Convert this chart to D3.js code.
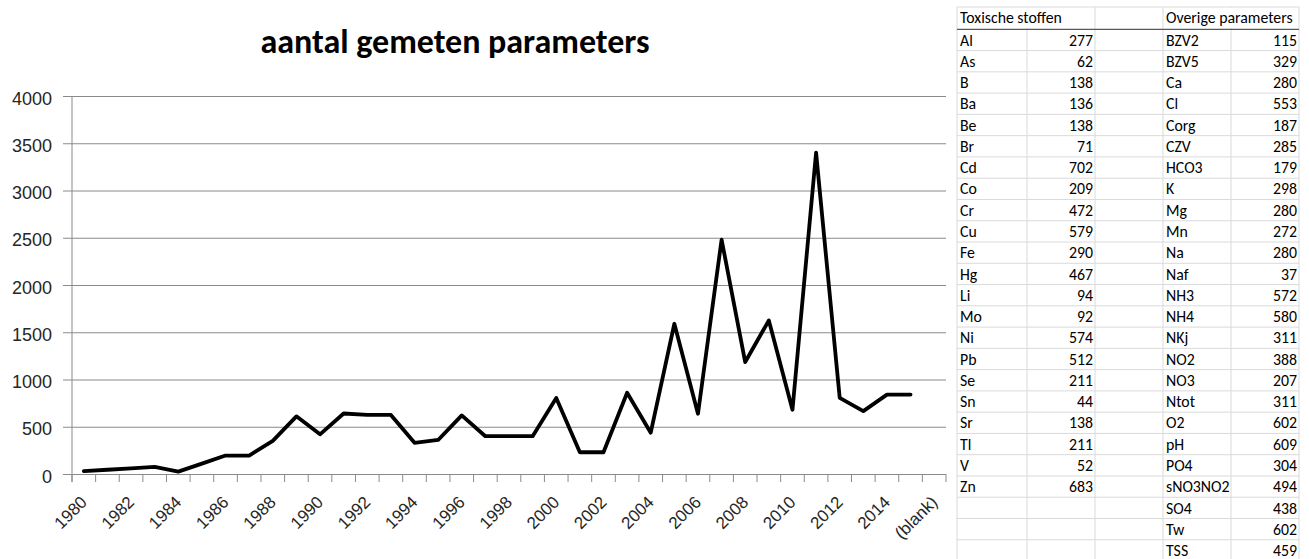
<!DOCTYPE html>
<html lang="nl">
<head>
<meta charset="UTF-8">
<script src="https://d3js.org/d3.v7.min.js"></script>
<title>aantal gemeten parameters</title>
<style>
  body { margin: 0; background: #fff; }
  svg { display: block; }
</style>
</head>
<body>
<svg id="chart" width="1309" height="559"></svg>
<script>
// chart data
const years = ["1980","1981","1982","1983","1984","1985","1986","1987","1988","1989",
  "1990","1991","1992","1993","1994","1995","1996","1997","1998","1999",
  "2000","2001","2002","2003","2004","2005","2006","2007","2008","2009",
  "2010","2011","2012","2013","2014","2015","(blank)"];
const counts = [30, 45, 60, 75, 25, 110, 195, 195, 350, 610,
  420, 640, 625, 625, 330, 360, 620, 400, 400, 400,
  805, 230, 230, 860, 437, 1590, 638, 2480, 1185, 1625,
  680, 3400, 805, 665, 840, 840, null];
const yTicks = [0, 500, 1000, 1500, 2000, 2500, 3000, 3500, 4000];

// table data
const toxNames = ["Al","As","B","Ba","Be","Br","Cd","Co","Cr","Cu","Fe","Hg",
  "Li","Mo","Ni","Pb","Se","Sn","Sr","Tl","V","Zn"];
const toxCounts = [277, 62, 138, 136, 138, 71, 702, 209, 472, 579, 290, 467,
  94, 92, 574, 512, 211, 44, 138, 211, 52, 683];
const otherNames = ["BZV2","BZV5","Ca","Cl","Corg","CZV","HCO3","K","Mg","Mn","Na","Naf",
  "NH3","NH4","NKj","NO2","NO3","Ntot","O2","pH","PO4","sNO3NO2","SO4","Tw","TSS"];
const otherCounts = [115, 329, 280, 553, 187, 285, 179, 298, 280, 272, 280, 37,
  572, 580, 311, 388, 207, 311, 602, 609, 304, 494, 438, 602, 459];

const svg = d3.select("#chart");
const calibri = "Carlito, Lato, sans-serif";
const arial = "'Liberation Sans', Arial, sans-serif";

// ---- line chart ----
const plotL = 72, plotR = 946, plotT = 96, plotB = 474;
const xs = d3.scaleBand().domain(years).range([plotL, plotR]);
const ys = d3.scaleLinear().domain([0, 4000]).range([plotB, plotT]);

svg.append("text")
  .attr("x", 455).attr("y", 53)
  .attr("text-anchor", "middle")
  .style("font-family", calibri).style("font-weight", "bold").style("font-size", "34px")
  .attr("fill", "#000")
  .text("aantal gemeten parameters");

// gridlines + y labels
const yAxis = d3.axisLeft(ys).tickValues(yTicks).tickFormat(d3.format("d"))
  .tickSize(-(plotR - plotL)).tickSizeOuter(0).tickPadding(20);
const gy = svg.append("g").attr("transform", "translate(" + plotL + ",0)").call(yAxis);
gy.select(".domain").remove();
gy.selectAll(".tick line").attr("x1", -9).attr("stroke", "#8a8a8a");
gy.selectAll(".tick text")
  .attr("dy", "0.45em")
  .style("font-family", arial).style("font-size", "18px").attr("fill", "#262626");
svg.append("line")
  .attr("x1", plotL).attr("x2", plotL).attr("y1", plotT).attr("y2", plotB + 8)
  .attr("stroke", "#8a8a8a");

// x axis ticks at category boundaries
const gx = svg.append("g").attr("transform", "translate(0," + plotB + ")");
gx.selectAll("line.cat")
  .data(years.map(y => xs(y)).concat([plotR]))
  .enter().append("line")
  .attr("x1", d => d).attr("x2", d => d).attr("y1", 0).attr("y2", 8)
  .attr("stroke", "#8a8a8a");
gx.selectAll("text")
  .data(years.filter((d, i) => i % 2 === 0))
  .enter().append("text")
  .attr("transform", d => "translate(" + (xs(d) + xs.bandwidth() / 2) + ",25) rotate(-45)")
  .attr("text-anchor", "end")
  .attr("dy", "0.35em")
  .style("font-family", arial).style("font-size", "17px").attr("fill", "#262626")
  .text(d => d);

const line = d3.line()
  .defined(d => d.v !== null)
  .x(d => xs(d.year) + xs.bandwidth() / 2)
  .y(d => ys(d.v));
svg.append("path")
  .datum(years.map((y, i) => ({ year: y, v: counts[i] })))
  .attr("d", line)
  .attr("fill", "none").attr("stroke", "#000")
  .attr("stroke-width", 3.8).attr("stroke-linejoin", "round").attr("stroke-linecap", "round");

// ---- table ----
const colX = [957, 1027, 1095, 1163, 1231, 1299];
const rowTop = 7, headBottom = 29.3, rowH = 21.27, nRows = 25;
const tbl = svg.append("g");
const rowsY = d3.range(nRows + 1).map(k => headBottom + k * rowH);

tbl.selectAll("line.v").data(colX).enter().append("line")
  .attr("x1", d => d).attr("x2", d => d).attr("y1", rowTop).attr("y2", 559)
  .attr("stroke", "#dadada");
tbl.selectAll("line.h").data([rowTop].concat(rowsY.slice(1))).enter().append("line")
  .attr("x1", colX[0]).attr("x2", colX[5]).attr("y1", d => d).attr("y2", d => d)
  .attr("stroke", "#dadada");
tbl.append("rect").attr("x", colX[0] + 1).attr("y", rowTop + 1)
  .attr("width", colX[2] - colX[0] - 2).attr("height", headBottom - rowTop - 2).attr("fill", "#fff");
tbl.append("rect").attr("x", colX[3] + 1).attr("y", rowTop + 1)
  .attr("width", colX[5] - colX[3] - 2).attr("height", headBottom - rowTop - 2).attr("fill", "#fff");
tbl.append("line")
  .attr("x1", colX[0]).attr("x2", colX[5]).attr("y1", headBottom).attr("y2", headBottom)
  .attr("stroke", "#595959").attr("stroke-width", 1.2);

const cellText = (x, y, t, anchor) => tbl.append("text")
  .attr("x", x).attr("y", y).attr("text-anchor", anchor)
  .style("font-family", calibri).style("font-size", "15.8px").attr("fill", "#000")
  .text(t);

cellText(colX[0] + 3, headBottom - 6, "Toxische stoffen", "start");
cellText(colX[3] + 3, headBottom - 6, "Overige parameters", "start");
toxNames.forEach((n, i) => {
  cellText(colX[0] + 3, headBottom + (i + 1) * rowH - 5, n, "start");
  cellText(colX[2] - 2, headBottom + (i + 1) * rowH - 5, toxCounts[i], "end");
});
otherNames.forEach((n, i) => {
  cellText(colX[3] + 3, headBottom + (i + 1) * rowH - 5, n, "start");
  cellText(colX[5] - 2, headBottom + (i + 1) * rowH - 5, otherCounts[i], "end");
});
</script>
</body>
</html>
